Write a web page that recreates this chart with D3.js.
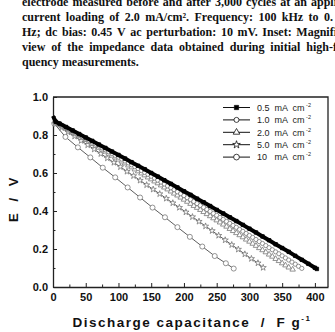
<!DOCTYPE html>
<html lang="en">
<head>
    <meta charset="UTF-8">
    <title>Discharge</title>
    <script src="https://cdn.jsdelivr.net/npm/d3@7/dist/d3.min.js"></script>
    <style>
        body { margin: 0; background: #fff; }
        svg { display: block; }
    </style>
</head>
<body>
<svg width="335" height="332" id="main"></svg>
<script>
    // caption lines above the figure (cut by the page edge)
    const captionLines = [
        'electrode measured before and after 3,000 cycles at an appli',
        'current loading of 2.0 mA/cm². Frequency: 100 kHz to 0.',
        'Hz; dc bias: 0.45 V ac perturbation: 10 mV. Inset: Magnifi',
        'view of the impedance data obtained during initial high-f',
        'quency measurements.'
    ];
    const captionRight = [337, 333, 337, 337, null];

    const seriesNames = ['0.5', '1.0', '2.0', '5.0', '10'];
    const seriesLabels = ['0.5  mA  cm', '1.0  mA  cm', '2.0  mA  cm', '5.0  mA  cm', '10   mA  cm'];

    const cap05 = [0, 4, 10, 20, 30, 40, 50, 60, 70, 80, 90, 100, 110, 120, 130, 140, 150, 160, 170, 180, 190, 200,
        210, 220, 230, 240, 250, 260, 270, 280, 290, 300, 310, 320, 330, 340, 350, 360, 370, 380, 390, 400, 403];
    const e05 = [0.90, 0.870, 0.860, 0.842, 0.824, 0.805, 0.787, 0.769, 0.750, 0.732, 0.713, 0.695, 0.676, 0.657,
        0.638, 0.620, 0.600, 0.581, 0.562, 0.543, 0.524, 0.504, 0.485, 0.465, 0.446, 0.426, 0.406, 0.387, 0.367,
        0.347, 0.327, 0.307, 0.287, 0.266, 0.246, 0.225, 0.205, 0.185, 0.164, 0.143, 0.122, 0.101, 0.095];

    const cap10 = [0, 5, 10, 15, 20, 25, 30, 35, 40, 45, 50, 55, 60, 65, 70, 75, 80, 85, 90, 95, 100, 105, 110, 115,
        120, 125, 130, 135, 140, 145, 150, 155, 160, 165, 170, 175, 180, 185, 190, 195, 200, 205, 210, 215, 220, 225,
        230, 235, 240, 245, 250, 255, 260, 265, 270, 275, 280, 285, 290, 295, 300, 305, 310, 315, 320, 325, 330, 335,
        340, 345, 350, 355, 360, 365, 370, 375, 380];
    const e10 = [0.90, 0.868, 0.859, 0.849, 0.839, 0.830, 0.820, 0.810, 0.801, 0.791, 0.781, 0.771, 0.762, 0.752,
        0.742, 0.732, 0.722, 0.712, 0.703, 0.693, 0.683, 0.673, 0.663, 0.653, 0.643, 0.633, 0.623, 0.613, 0.603,
        0.593, 0.583, 0.573, 0.562, 0.552, 0.542, 0.532, 0.522, 0.512, 0.501, 0.491, 0.481, 0.470, 0.460, 0.450,
        0.439, 0.429, 0.419, 0.408, 0.398, 0.387, 0.377, 0.366, 0.356, 0.345, 0.335, 0.324, 0.314, 0.303, 0.293,
        0.282, 0.271, 0.261, 0.250, 0.239, 0.229, 0.218, 0.207, 0.196, 0.185, 0.175, 0.164, 0.153, 0.142, 0.131,
        0.120, 0.109, 0.098];

    const cap20 = [0, 5, 10, 15, 20, 25, 30, 35, 40, 45, 50, 55, 60, 65, 70, 75, 80, 85, 90, 95, 100, 105, 110, 115,
        120, 125, 130, 135, 140, 145, 150, 155, 160, 165, 170, 175, 180, 185, 190, 195, 200, 205, 210, 215, 220, 225,
        230, 235, 240, 245, 250, 255, 260, 265, 270, 275, 280, 285, 290, 295, 300, 305, 310, 315, 320, 325, 330, 335,
        340, 345, 350, 355, 360, 366];
    const e20 = [0.90, 0.864, 0.854, 0.844, 0.834, 0.824, 0.814, 0.804, 0.794, 0.784, 0.774, 0.764, 0.753, 0.743,
        0.733, 0.723, 0.713, 0.702, 0.692, 0.682, 0.671, 0.661, 0.651, 0.640, 0.630, 0.619, 0.609, 0.598, 0.588,
        0.577, 0.567, 0.556, 0.546, 0.535, 0.524, 0.514, 0.503, 0.492, 0.482, 0.471, 0.460, 0.449, 0.438, 0.427,
        0.417, 0.406, 0.395, 0.384, 0.373, 0.362, 0.351, 0.340, 0.329, 0.318, 0.306, 0.295, 0.284, 0.273, 0.262,
        0.250, 0.239, 0.228, 0.217, 0.205, 0.194, 0.183, 0.171, 0.160, 0.148, 0.137, 0.125, 0.114, 0.103, 0.092];

    const cap50 = [0, 3, 13, 23, 33, 43, 53, 63, 73, 83, 93, 103, 113, 123, 133, 143, 153, 163, 173, 183, 193, 203,
        213, 223, 233, 243, 253, 263, 273, 283, 293, 303, 313, 321];
    const e50 = [0.90, 0.860, 0.838, 0.815, 0.793, 0.770, 0.747, 0.725, 0.701, 0.678, 0.655, 0.632, 0.608, 0.585,
        0.561, 0.537, 0.514, 0.490, 0.466, 0.442, 0.418, 0.394, 0.369, 0.345, 0.320, 0.296, 0.271, 0.247, 0.222,
        0.198, 0.173, 0.149, 0.126, 0.102];

    const cap100 = [0, 2, 19, 38, 57, 76, 95, 114, 133, 152, 171, 190, 209, 228, 247, 264, 276];
    const e100 = [0.90, 0.86, 0.79, 0.735, 0.682, 0.628, 0.577, 0.524, 0.471, 0.418, 0.367, 0.315, 0.264, 0.213,
        0.163, 0.125, 0.097];

    const xTicks = [0, 50, 100, 150, 200, 250, 300, 350, 400];
    const xMinor = [25, 75, 125, 175, 225, 275, 325, 375];
    const yTicks = [0.0, 0.2, 0.4, 0.6, 0.8, 1.0];
    const yMinor = [0.1, 0.3, 0.5, 0.7, 0.9];

    const svg = d3.select('#main');
    const margin = {top: 97, right: 7, bottom: 45, left: 53};
    const width = +svg.attr('width');
    const height = +svg.attr('height');
    const innerWidth = width - margin.left - margin.right;
    const innerHeight = height - margin.top - margin.bottom;

    // caption, justified by hand word by word
    const serif = '"Liberation Serif", "Times New Roman", serif';
    captionLines.forEach((line, i) => {
        const y = 6 + i * 15;
        const words = line.split(' ');
        const tmp = words.map(w => svg.append('text').text(w)
            .attr('font-family', serif).attr('font-size', 12).attr('font-weight', 'bold')
            .attr('fill', '#111').attr('y', y));
        const widths = tmp.map(t => t.node().getComputedTextLength());
        const total = d3.sum(widths);
        const target = captionRight[i];
        const gap = target == null ? 3.2 : (target - 22 - total) / (words.length - 1);
        let x = 22;
        tmp.forEach((t, k) => {
            t.attr('x', x);
            x += widths[k] + gap;
        });
    });

    const xScale = d3.scaleLinear().domain([0, 420]).range([0, innerWidth]);
    const yScale = d3.scaleLinear().domain([0, 1]).range([innerHeight, 0]);

    const g = svg.append('g').attr('transform', `translate(${margin.left}, ${margin.top})`);

    // frame (top and right sides)
    g.append('path')
        .attr('d', `M0,0H${innerWidth}V${innerHeight}`)
        .attr('fill', 'none').attr('stroke', '#222').attr('stroke-width', 1.3);

    const sans = '"Liberation Sans", Arial, sans-serif';

    const xAxis = d3.axisBottom(xScale).tickValues(xTicks).tickSizeInner(-4).tickSizeOuter(0).tickPadding(6)
        .tickFormat(d3.format('d'));
    g.append('g').attr('transform', `translate(0, ${innerHeight})`).call(xAxis);
    g.append('g').attr('transform', `translate(0, ${innerHeight})`)
        .call(d3.axisBottom(xScale).tickValues(xMinor).tickSize(-2.5).tickFormat(''))
        .call(s => s.select('.domain').remove());

    const yAxis = d3.axisLeft(yScale).tickValues(yTicks).tickSizeInner(-4).tickSizeOuter(0).tickPadding(5)
        .tickFormat(d3.format('.1f'));
    g.append('g').call(yAxis);
    g.append('g')
        .call(d3.axisLeft(yScale).tickValues(yMinor).tickSize(-2.5).tickFormat(''))
        .call(s => s.select('.domain').remove());

    g.selectAll('.domain').attr('stroke', '#222').attr('stroke-width', 1.3);
    g.selectAll('.tick line').attr('stroke', '#222').attr('stroke-width', 1);
    g.selectAll('.tick text').attr('font-family', sans).attr('font-size', 11)
        .attr('font-weight', 'bold').attr('fill', '#111');

    // axis titles
    svg.append('text')
        .attr('transform', `translate(18, ${margin.top + innerHeight / 2 + 7}) rotate(-90)`)
        .attr('text-anchor', 'middle')
        .attr('font-family', sans).attr('font-size', 13).attr('font-weight', 'bold')
        .attr('letter-spacing', 1.5).attr('fill', '#111')
        .attr('xml:space', 'preserve')
        .text('E  /  V');

    const xt = svg.append('text')
        .attr('x', 192).attr('y', 327)
        .attr('text-anchor', 'middle')
        .attr('font-family', sans).attr('font-size', 13.5).attr('font-weight', 'bold')
        .attr('letter-spacing', 1.5).attr('fill', '#111')
        .attr('xml:space', 'preserve');
    xt.append('tspan').text('Discharge capacitance  /  F g');
    xt.append('tspan').text('-1').attr('font-size', 8).attr('dy', -6);

    // series
    const series = [
        {x: cap05, y: e05, sym: d3.symbolSquare, size: 12, fill: '#000', lw: 4},
        {x: cap10, y: e10, sym: d3.symbolCircle, size: 14, fill: '#fff', lw: 0.8},
        {x: cap20, y: e20, sym: d3.symbolTriangle, size: 13, fill: '#fff', lw: 0.8},
        {x: cap50, y: e50, sym: d3.symbolStar, size: 12, fill: '#fff', lw: 0.8},
        {x: cap100, y: e100, sym: d3.symbolCircle, size: 20, fill: '#fff', lw: 0.8}
    ];

    const line = d3.line().x(d => xScale(d[0])).y(d => yScale(d[1]));

    series.slice().reverse().forEach(s => {
        const pts = s.x.map((v, i) => [v, s.y[i]]);
        g.append('path').datum(pts).attr('d', line)
            .attr('fill', 'none').attr('stroke', s.fill === '#000' ? '#000' : '#333').attr('stroke-width', s.lw);
        g.selectAll(null).data(pts.slice(1)).enter().append('path')
            .attr('d', d3.symbol().type(s.sym).size(s.size))
            .attr('transform', d => `translate(${xScale(d[0])}, ${yScale(d[1])})`)
            .attr('fill', s.fill).attr('stroke', s.fill === '#000' ? '#000' : '#777')
            .attr('stroke-width', 0.8);
    });

    // legend
    const legend = svg.append('g');
    seriesNames.forEach((name, i) => {
        const s = series[i];
        const y = 107.5 + i * 12.4;
        legend.append('line').attr('x1', 223).attr('x2', 250).attr('y1', y).attr('y2', y)
            .attr('stroke', '#111').attr('stroke-width', 1);
        legend.append('path').attr('d', d3.symbol().type(s.sym).size(s.size + 6))
            .attr('transform', `translate(236.5, ${y})`)
            .attr('fill', s.fill).attr('stroke', '#111').attr('stroke-width', 0.8);
        const t = legend.append('text').attr('x', 257).attr('y', y + 3.2)
            .attr('font-family', sans).attr('font-size', 9).attr('fill', '#222')
            .attr('xml:space', 'preserve');
        t.append('tspan').text(seriesLabels[i]);
        t.append('tspan').text(' -2').attr('font-size', 5.5).attr('dy', -4);
    });
</script>
</body>
</html>
